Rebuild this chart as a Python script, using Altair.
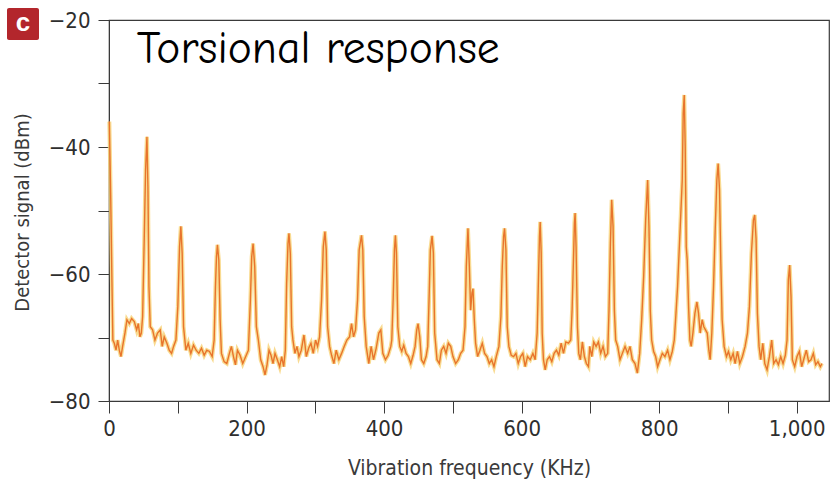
import altair as alt
import pandas as pd

# Trace: (frequency kHz, detector signal dBm)
seg_0_195 = [
    (0.5, -36), (2.5, -48), (4.4, -62), (5.6, -70.4), (7.7, -70.9), (10.2, -72.0), (12.6, -70.4),
    (15.0, -72.0), (17.4, -73.0), (19.8, -71.4), (23.2, -69.3), (26.1, -67.2), (29.5, -67.8),
    (32.9, -67.0), (36.8, -67.5), (40.2, -68.8), (42.6, -67.8), (45.0, -69.9), (47.0, -69.3),
    (48.9, -66.7), (51.3, -54.1), (53.2, -43.6), (55.2, -38.4), (56.6, -46.2), (58.1, -62.0),
    (60.0, -68.3), (63.4, -68.8), (66.8, -70.4), (70.6, -69.3), (74.5, -68.8), (77.4, -71.4),
    (80.3, -69.9), (84.2, -70.9), (87.6, -72.0), (91.0, -72.5), (93.9, -71.4), (97.3, -70.4),
    (100.1, -65.1), (102.6, -55.7), (104.5, -52.5), (106.4, -56.7), (108.4, -68.3), (111.8, -72.0),
    (115.2, -70.9), (119.0, -72.5), (122.9, -71.2), (126.7, -72.0), (130.6, -72.5), (134.5, -71.7),
    (138.4, -72.8), (142.2, -72.0), (146.1, -72.2), (150.0, -73.0), (152.9, -70.4), (154.8, -62.0),
    (156.3, -57.3), (157.7, -55.4), (159.7, -57.8), (161.6, -67.2), (163.5, -72.5), (167.4, -73.8),
    (171.3, -74.1), (175.1, -72.5), (178.0, -71.4), (181.0, -73.0), (183.9, -74.3), (186.8, -72.0),
    (190.6, -72.8), (194.5, -74.1),
]
seg_195_410 = [
    (198.8, -73.0), (202.7, -72.0), (205.6, -64.1), (207.5, -57.3), (209.5, -55.2), (211.9, -58.8),
    (214.3, -68.3), (217.2, -70.4), (220.6, -73.5), (224.0, -74.6), (226.9, -75.9), (229.8, -74.3),
    (232.7, -72.0), (235.6, -72.8), (238.5, -74.1), (241.4, -72.5), (244.8, -73.5), (248.2, -74.6),
    (251.1, -73.0), (254.0, -74.6), (256.4, -72.0), (258.3, -61.5), (260.3, -55.2), (261.7, -53.6),
    (263.7, -56.8), (265.6, -68.3), (267.5, -70.4), (270.4, -72.5), (273.3, -71.4), (276.2, -73.0),
    (279.6, -72.0), (283.5, -69.6), (286.9, -73.0), (290.3, -71.7), (293.7, -70.9), (297.0, -72.5),
    (300.4, -70.4), (303.3, -71.4), (306.2, -69.9), (309.1, -64.1), (311.6, -55.7), (314.0, -53.3),
    (315.9, -56.2), (317.9, -68.3), (320.8, -71.4), (323.7, -72.8), (327.0, -74.1), (330.4, -72.0),
    (334.3, -73.5), (338.2, -72.5), (342.0, -71.4), (345.9, -70.4), (349.8, -69.9), (352.7, -67.8),
    (355.6, -69.9), (358.5, -68.8), (361.4, -64.1), (363.8, -56.2), (367.2, -53.9), (369.1, -56.2),
    (371.1, -66.7), (374.0, -71.4), (377.8, -74.1), (381.2, -71.4), (384.6, -73.5), (388.5, -71.7),
    (392.4, -69.3), (395.3, -68.8), (398.2, -72.5), (402.0, -73.5), (405.9, -72.8), (409.8, -71.4),
]
seg_410_617 = [
    (411.2, -70.4), (413.2, -64.1), (415.1, -56.2), (416.5, -53.9), (418.0, -56.7), (420.0, -68.3),
    (422.8, -71.4), (425.7, -72.2), (428.6, -71.2), (432.0, -72.5), (435.4, -73.0), (438.8, -74.1),
    (442.2, -72.8), (445.1, -71.4), (447.5, -68.8), (449.4, -67.8), (451.9, -69.9), (454.3, -73.5),
    (457.7, -74.1), (461.1, -73.0), (463.5, -71.4), (465.4, -64.1), (467.3, -56.2), (469.8, -54.0),
    (471.7, -56.7), (473.6, -69.3), (477.0, -73.5), (480.4, -74.1), (483.3, -72.0), (486.7, -71.4),
    (490.1, -72.5), (493.5, -70.9), (496.9, -71.4), (500.2, -73.0), (504.1, -74.1), (508.0, -73.5),
    (511.4, -72.5), (514.8, -72.0), (517.7, -68.3), (519.6, -58.8), (522.0, -52.8), (524.0, -58.8),
    (525.9, -65.7), (527.8, -63.0), (529.3, -62.3), (531.2, -67.2), (533.1, -70.9), (536.0, -73.0),
    (539.4, -72.0), (542.8, -70.9), (546.2, -72.5), (549.6, -73.0), (553.0, -74.1), (556.4, -73.5),
    (559.8, -74.6), (563.1, -73.0), (567.0, -71.4), (569.9, -66.7), (571.9, -58.8), (573.8, -54.1),
    (575.2, -52.8), (577.2, -56.2), (579.1, -68.3), (581.5, -71.4), (584.9, -72.8), (588.3, -73.0),
    (591.7, -72.5), (595.1, -74.1), (598.5, -73.0), (601.8, -72.5), (605.2, -74.6), (608.6, -73.0),
    (612.5, -73.5), (616.4, -72.5),
]
seg_617_834 = [
    (619.7, -73.5), (622.6, -69.3), (624.6, -60.4), (626.0, -54.1), (627.0, -51.8), (628.5, -56.7),
    (629.9, -69.3), (631.8, -73.5), (634.3, -75.1), (637.2, -73.5), (640.5, -73.0), (643.9, -73.8),
    (647.3, -72.5), (650.7, -72.0), (654.1, -72.8), (657.5, -70.9), (660.9, -72.5), (664.3, -70.7),
    (668.1, -70.9), (671.5, -70.4), (673.4, -65.7), (675.4, -57.8), (676.8, -52.0), (677.8, -50.4),
    (679.2, -55.7), (681.2, -68.3), (683.1, -72.5), (685.5, -73.5), (688.4, -70.7), (691.3, -73.0),
    (694.2, -74.1), (697.2, -74.6), (699.1, -71.4), (702.0, -73.0), (704.9, -70.7), (708.3, -71.4),
    (711.7, -70.7), (715.0, -72.5), (718.4, -71.4), (721.8, -73.0), (725.2, -72.5), (727.1, -65.7),
    (729.1, -55.2), (731.0, -48.3), (733.0, -52.5), (734.9, -65.7), (736.8, -70.4), (739.7, -71.4),
    (743.1, -73.5), (746.5, -72.5), (750.4, -71.4), (754.2, -72.5), (757.6, -71.4), (761.0, -73.5),
    (764.9, -74.1), (768.3, -75.6), (771.7, -72.5), (774.6, -67.2), (777.5, -60.4), (780.4, -51.5),
    (783.3, -45.2), (785.2, -52.5), (787.1, -65.7), (789.1, -70.4), (792.0, -72.2), (794.9, -73.0),
    (797.8, -74.6), (801.2, -73.5), (804.6, -72.5), (808.4, -73.0), (812.3, -72.0), (815.7, -73.5),
    (819.1, -72.2), (822.0, -70.4), (823.9, -67.2), (826.8, -62.0), (830.7, -52.5), (833.6, -45.2),
]
seg_834_1037 = [
    (835.0, -34.7), (836.5, -31.8), (837.9, -39.9), (839.4, -55.7), (840.8, -57.8), (842.8, -65.1),
    (844.7, -70.4), (846.6, -71.4), (849.1, -69.3), (852.0, -66.2), (854.9, -64.4), (857.3, -66.2),
    (859.7, -69.3), (862.6, -67.2), (865.0, -68.3), (867.4, -68.8), (869.9, -69.3), (872.3, -72.0),
    (874.2, -73.5), (876.6, -69.3), (879.1, -62.0), (881.5, -53.1), (883.9, -45.2), (885.8, -42.6),
    (887.8, -46.8), (889.7, -58.3), (891.6, -67.2), (894.5, -71.4), (897.9, -73.0), (900.8, -72.2),
    (904.2, -73.5), (907.6, -72.5), (910.5, -74.1), (913.9, -72.2), (917.3, -74.1), (921.1, -73.0),
    (925.0, -71.4), (928.4, -69.3), (931.3, -65.1), (934.2, -56.7), (937.1, -51.5), (939.0, -50.7),
    (941.0, -54.6), (942.9, -66.2), (945.3, -71.4), (947.7, -73.5), (950.7, -70.9), (953.6, -74.1),
    (956.9, -75.1), (960.3, -73.0), (963.7, -70.4), (966.6, -74.1), (970.0, -73.5), (973.4, -74.3),
    (976.8, -73.0), (980.2, -74.1), (983.5, -72.8), (986.0, -70.4), (987.9, -60.9), (989.8, -58.6),
    (991.8, -63.6), (993.7, -73.5), (997.1, -74.6), (1000.5, -73.0), (1003.9, -72.2), (1007.3, -74.6),
    (1010.6, -73.3), (1014.0, -72.0), (1017.4, -73.8), (1020.8, -73.5), (1024.2, -72.5), (1027.6, -74.3),
    (1030.9, -73.8), (1034.4, -74.6), (1036.8, -74.1),
]

x_ticks = [0, 100, 200, 300, 400, 500, 600, 700, 800, 900, 1000]
y_ticks = [-80, -70, -60, -50, -40, -30, -20]
x_domain = [0, 1047]
y_domain = [-80, -20]

annotation = [{"freq": 40.5, "signal": -26.8, "text": "Torsional response"}]
badge = [{"text": "c"}]

points = seg_0_195 + seg_195_410 + seg_410_617 + seg_617_834 + seg_834_1037
df = pd.DataFrame(points, columns=["freq", "signal"])

x_scale = alt.Scale(domain=x_domain, nice=False, zero=False)
y_scale = alt.Scale(domain=y_domain, nice=False, zero=False)

axis_font = "DejaVu Sans Condensed, Liberation Sans Narrow, Liberation Sans"

x_axis = alt.Axis(
    values=x_ticks,
    labelExpr="datum.value % 200 == 0 ? format(datum.value, ',') : ''",
    title="Vibration frequency (KHz)",
    tickSize=12, labelPadding=5, labelFontSize=22, labelFlush=False, labelOverlap=False,
    titleFontSize=21, titleY=67, titleBaseline="middle",
)
y_axis = alt.Axis(
    values=y_ticks,
    labelExpr="datum.value % 20 == 0 ? format(datum.value, 'd') : ''",
    title="Detector signal (dBm)",
    tickSize=11, labelPadding=8, labelFontSize=22, labelOverlap=False,
    titleFontSize=20, titleX=-87, titleY=192, titleAngle=270,
    titleAlign="center", titleBaseline="middle",
)

base = alt.Chart(df)
glow = base.mark_line(color="#F7D275", strokeWidth=4, opacity=0.8).encode(
    x=alt.X("freq:Q", scale=x_scale, axis=x_axis),
    y=alt.Y("signal:Q", scale=y_scale, axis=y_axis),
    order="freq:Q",
)
core = base.mark_line(color="#E8742C", strokeWidth=1.4).encode(
    x=alt.X("freq:Q", scale=x_scale),
    y=alt.Y("signal:Q", scale=y_scale),
    order="freq:Q",
)

label = alt.Chart(pd.DataFrame(annotation)).mark_text(
    align="left", baseline="alphabetic", fontSize=45.5, font="Comic Sans MS, Comic Neue, Lato",
    color="#000000",
).encode(
    x=alt.X("freq:Q", scale=x_scale),
    y=alt.Y("signal:Q", scale=y_scale),
    text="text:N",
)

badge_df = pd.DataFrame(badge)
badge_box = alt.Chart(badge_df).mark_rect(color="#B3262C", cornerRadius=2).encode(
    x=alt.value(-102), x2=alt.value(-70), y=alt.value(-12), y2=alt.value(20),
)
badge_text = alt.Chart(badge_df).mark_text(
    color="white", fontSize=26, fontWeight="bold", font="Liberation Sans",
    align="center", baseline="middle",
).encode(x=alt.value(-86), y=alt.value(3), text="text:N")

chart = alt.layer(glow, core, label, badge_box, badge_text).properties(
    width=720, height=381,
    padding={"left": 109, "top": 20, "right": 6, "bottom": 88},
    autosize=alt.AutoSizeParams(type="none"),
).configure_view(
    stroke="#3a3a3a", strokeWidth=1.2,
).configure_axis(
    grid=False,
    domainColor="#3a3a3a", tickColor="#3a3a3a",
    labelColor="#2e2e2e", titleColor="#3a3a3a",
    labelFont=axis_font,
    titleFont=axis_font,
    titleFontWeight="normal",
)

chart.save("out.html", embed_options={"renderer": "svg", "actions": False})
